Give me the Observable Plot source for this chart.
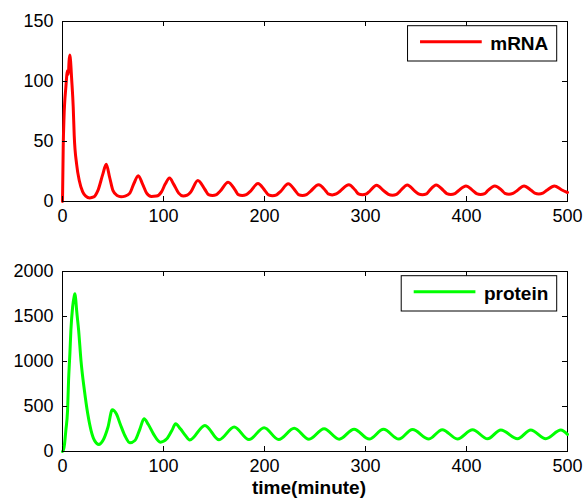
<!DOCTYPE html>
<html><head><meta charset="utf-8">
<script src="https://cdn.jsdelivr.net/npm/d3@7"></script>
<script src="https://cdn.jsdelivr.net/npm/@observablehq/plot@0.6"></script>
<style>
body{margin:0;background:#fff;}
#chart{width:587px;}
#chart svg{display:block;}
</style></head><body><div id="chart"></div>
<script>
const mrnaTime = [0, 0.7, 1.5, 3.3, 5, 5.8, 6.5, 7.3, 8, 9, 10.6, 11.6, 14, 16.6, 20, 23, 27, 31, 35, 40, 43.3, 46.7, 50, 54, 58, 62, 66.7, 70.7, 75, 79.3, 83.3, 88, 93, 98, 101.7, 106, 110, 115, 119.5, 123.5, 127, 134, 141, 144.5, 148.5, 152.5, 156, 164, 171, 174, 178, 182, 186, 193.5, 200.5, 204, 208, 212, 216, 223.5, 230.5, 233.6, 237.6, 241.6, 245.5, 253.5, 260.5, 263, 267, 271, 275, 283.5, 290, 293, 297, 301, 304, 311, 318, 322.7, 326.7, 330.7, 334, 341.5, 348, 352.4, 356.4, 360.4, 363, 370, 377, 380.5, 384.5, 388.5, 392, 399.5, 406, 410, 414, 418, 421, 428, 435, 438, 442, 446, 450, 457, 464, 467.6, 471.6, 475.6, 479.5, 487, 494, 500];
const mrnaValue = [0, 45, 70, 95, 109, 106, 117, 122, 117, 103, 79, 55, 31, 17.5, 8, 4.5, 3, 3.8, 9, 23, 31, 20, 9, 5, 4, 4.5, 7, 15, 21.5, 14.5, 7, 4.2, 4.5, 8, 14.5, 19.5, 14.5, 7, 4.5, 5.3, 8, 17.5, 10, 5.8, 5, 5.8, 8.5, 16, 9.5, 5.8, 5, 5.8, 8.5, 15, 9, 5.6, 4.8, 5.6, 8.5, 14.7, 9, 5.8, 5, 5.8, 8.5, 14, 9, 6.3, 5.5, 6.3, 8.8, 14, 9.3, 6.4, 5.6, 6.4, 8.5, 13.5, 9, 6, 5.2, 6, 8.5, 13.8, 9.3, 6.4, 5.6, 6.4, 8.8, 13.8, 9.3, 6.6, 5.8, 6.6, 9, 13, 9.3, 6.6, 5.8, 6.6, 9, 13, 9.3, 6.8, 6, 6.8, 9, 13, 9.3, 7, 6.3, 7, 9.3, 13, 9.8, 7.5];

const proteinTime = [0, 1, 2, 3.3, 5, 6, 7.3, 8.3, 10, 11.5, 12.3, 13, 14, 16, 18.3, 21.7, 25, 28.3, 31.7, 36, 40, 45, 49.3, 53.3, 57.3, 61.7, 66.7, 71.7, 76.7, 80.7, 85, 90, 97, 103.3, 108.3, 112, 116.7, 121.7, 126, 141, 155, 170, 184.6, 199.6, 214, 229.4, 244, 259, 274, 288.7, 303.7, 317.8, 333, 346.5, 362.7, 376, 391, 406, 420.8, 434, 450.5, 463.6, 478.5, 493.4, 500];
const proteinValue = [0, 20, 80, 233, 455, 789, 1085, 1344, 1603, 1720, 1752, 1700, 1567, 1344, 1011, 678, 419, 233, 122, 78, 122, 270, 463, 419, 300, 178, 96, 122, 252, 363, 300, 196, 104, 141, 233, 307, 252, 178, 128, 290, 130, 272, 132, 265, 133, 258, 135, 252, 137, 248, 138, 246, 138, 244, 139, 243, 140, 242, 141, 240, 142, 239, 143, 238, 190];

const xTicks = [0, 100, 200, 300, 400, 500];
const mrnaTicks = [0, 50, 100, 150];
const proteinTicks = [0, 500, 1000, 1500, 2000];
const seriesNames = ["mRNA", "protein"];
const seriesColors = ["#ff0000", "#00ff00"];
const xLabel = "time(minute)";

const FONT = "'Liberation Sans', Arial, Helvetica, sans-serif";
const W = 587, mL = 62, mR = 20, mT = 21;

function panel({time, value, yTicks, name, color, height, marginBottom, xlabel}) {
  const data = time.map((t, i) => ({t, v: value[i]}));
  const fw = W - mL - mR, fh = height - mT - marginBottom;
  const marks = [
    Plot.frame({stroke: "black", strokeWidth: 1}),
    Plot.line(data, {x: "t", y: "v", stroke: color, strokeWidth: 3, curve: "monotone-x"}),
    Plot.tickX(xTicks, {x: d => d, insetTop: fh - 5, stroke: "black"}),
    Plot.tickX(xTicks, {x: d => d, insetBottom: fh - 5, stroke: "black"}),
    Plot.tickY(yTicks, {y: d => d, insetRight: fw - 5, stroke: "black"}),
    Plot.tickY(yTicks, {y: d => d, insetLeft: fw - 5, stroke: "black"}),
    Plot.axisX(xTicks, {tickSize: 0, tickPadding: 8, tickFormat: d => String(d), fontSize: 18, label: null}),
    Plot.axisY(yTicks, {tickSize: 0, tickPadding: 9, tickFormat: d => String(d), fontSize: 18, label: null})
  ];
  if (xlabel) {
    marks.push(Plot.text([xlabel], {text: d => d, frameAnchor: "bottom", dy: 42, dx: -6, fontSize: 19, fontWeight: "bold", fill: "black"}));
  }
  const el = Plot.plot({
    width: W, height, marginLeft: mL, marginRight: mR, marginTop: mT, marginBottom,
    style: {fontFamily: FONT, fontSize: "18px", color: "black", background: "white"},
    x: {domain: [xTicks[0], xTicks[xTicks.length - 1]]},
    y: {domain: [yTicks[0], yTicks[yTicks.length - 1]]},
    marks
  });
  document.getElementById("chart").appendChild(el);

  // legend inside the axes, top-right
  const svg = d3.select(el);
  const boxRight = W - mR - 10.3, boxTop = mT + 4.7, boxH = 35.3;
  const g = svg.append("g");
  const rect = g.append("rect");
  const line = g.append("line");
  const txt = g.append("text")
    .attr("x", boxRight - 8.4).attr("y", boxTop + 24.5)
    .attr("text-anchor", "end")
    .style("font-family", FONT).style("font-size", "19px").style("font-weight", "bold")
    .attr("fill", "black").text(name);
  const tw = txt.node().getComputedTextLength();
  const x2 = boxRight - 8.4 - tw - 8.5, x1 = x2 - 61.7;
  line.attr("x1", x1).attr("x2", x2).attr("y1", boxTop + 16).attr("y2", boxTop + 16)
    .attr("stroke", color).attr("stroke-width", 3);
  rect.attr("x", x1 - 12.5).attr("y", boxTop).attr("width", boxRight - (x1 - 12.5)).attr("height", boxH)
    .attr("fill", "white").attr("stroke", "black").attr("stroke-width", 1);
}

panel({time: mrnaTime, value: mrnaValue, yTicks: mrnaTicks, name: seriesNames[0], color: seriesColors[0], height: 250, marginBottom: 49});
panel({time: proteinTime, value: proteinValue, yTicks: proteinTicks, name: seriesNames[1], color: seriesColors[1], height: 252, marginBottom: 51, xlabel: xLabel});
</script></body></html>
